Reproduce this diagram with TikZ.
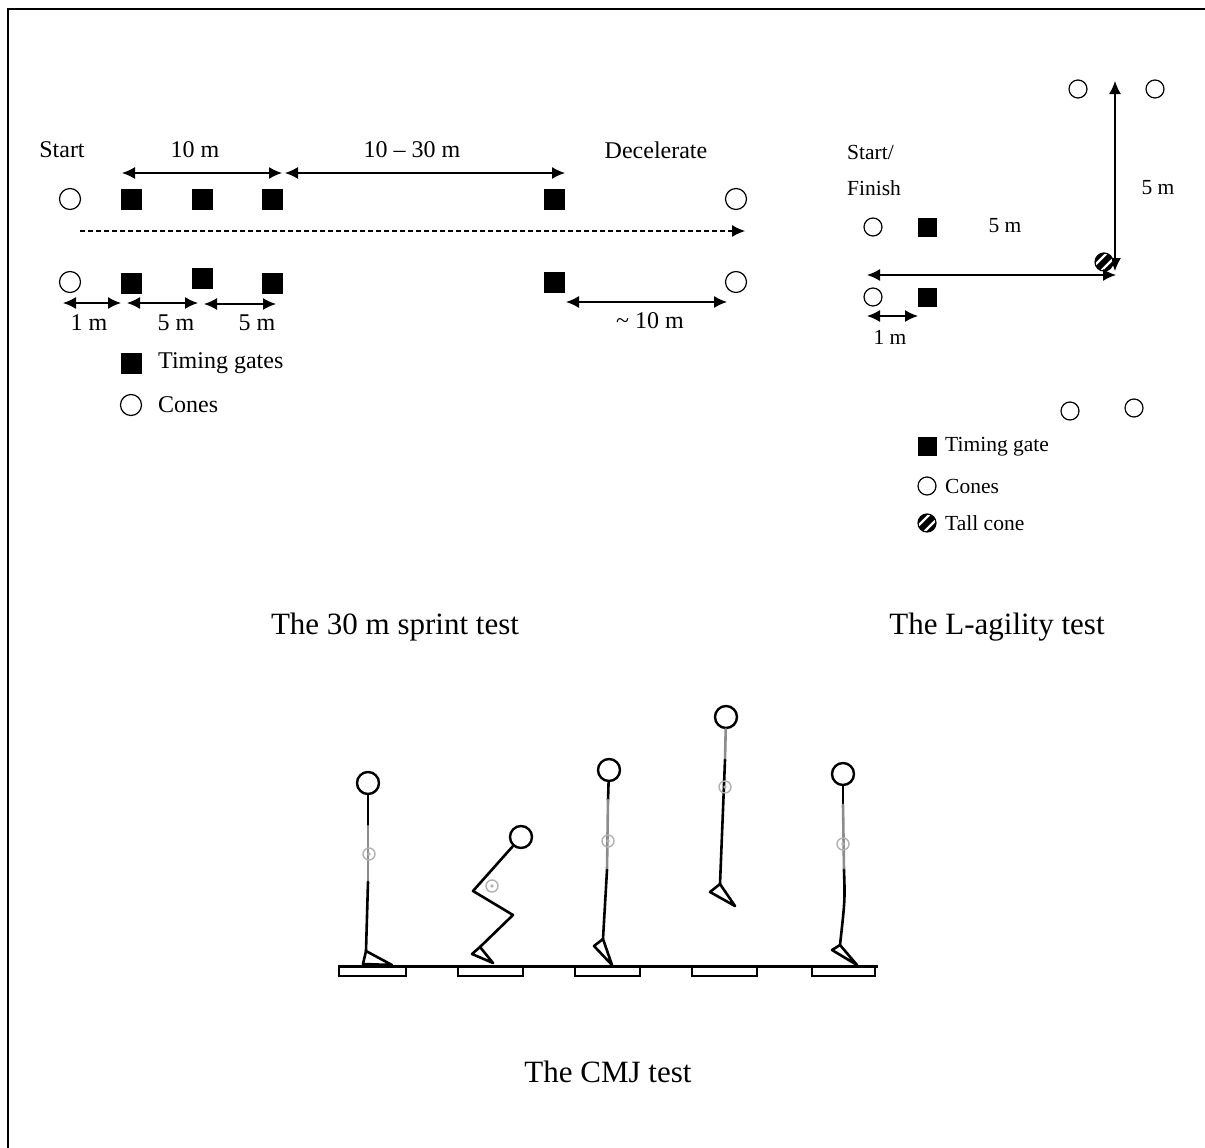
\documentclass[tikz,border=0pt]{standalone}
\usepackage{fontspec}
\setmainfont{Liberation Serif}
\usetikzlibrary{arrows.meta}
\begin{document}
\begin{tikzpicture}[x=1pt,y=-1pt,
  cone/.style={circle,draw,line width=1.2pt,minimum size=21pt,inner sep=0pt},
  gate/.style={rectangle,fill=black,minimum size=21pt,inner sep=0pt},
  lcone/.style={cone,minimum size=18pt},
  lgate/.style={gate,minimum size=19pt},
  tall/.style={circle,draw,fill=black,line width=1.2pt,minimum size=18pt,inner sep=0pt,
    path picture={\foreach \s in {-1,1}{
      \draw[white,line width=2.4pt]
        ([xshift=\s*3pt-12pt,yshift=-\s*3pt-12pt]path picture bounding box.center) -- ++(24pt,24pt);}}},
  tip/.style={Latex[length=13pt,width=12pt]},
  dim/.style={{Latex[length=13pt,width=12pt]}-{Latex[length=13pt,width=12pt]},line width=1.4pt},
  lab/.style={font=\fontsize{24}{28}\selectfont,inner sep=0pt},
  llab/.style={font=\fontsize{21.5}{26}\selectfont,inner sep=0pt},
  title/.style={font=\fontsize{31}{36}\selectfont,inner sep=0pt},
  body/.style={line width=2.6pt,line cap=round,line join=round},
  lightbody/.style={body,draw=black!45},
  head/.style={circle,draw,line width=2.4pt,minimum size=22pt,inner sep=0pt},
  hip/.style={circle,draw=black!30,line width=1.4pt,minimum size=12pt,inner sep=0pt,
    path picture={\fill[black!30] (path picture bounding box.center) circle[radius=1.8pt];}},
]
\useasboundingbox (0,0) rectangle (1205,1148);

% frame
\draw[line width=2pt] (8,1148) -- (8,9) -- (1205,9);

% ---------------- 30 m sprint ----------------
\node[lab] (start) at (62,150) {Start};
\node[lab] (ten) at (195,150) {10 m};
\node[lab] (tenthirty) at (412,150) {10 -- 30 m};
\node[lab] (decel) at (656,150) {Decelerate};

\coordinate (a1) at (122,173); \coordinate (a2) at (282,173);
\coordinate (a3) at (285,173); \coordinate (a4) at (565,173);
\draw[dim] (a1) -- (a2);
\draw[dim] (a3) -- (a4);

\node[cone] (c1) at (70,199) {};
\node[gate] (g1) at (131,199) {};
\node[gate] (g2) at (202,199) {};
\node[gate] (g3) at (272,199) {};
\node[gate] (g4) at (554,199) {};
\node[cone] (c2) at (736,199) {};

\coordinate (run0) at (80,231); \coordinate (run1) at (745,231);
\draw[line width=1.2pt,dash pattern=on 4.5pt off 3.5pt,-{Latex[length=13pt,width=12pt]}] (run0) -- (run1);

\node[cone] (c3) at (70,282) {};
\node[gate] (g5) at (131,283) {};
\node[gate] (g6) at (202,278) {};
\node[gate] (g7) at (272,283) {};
\node[gate] (g8) at (554,282) {};
\node[cone] (c4) at (736,282) {};

\coordinate (b1) at (63,303);  \coordinate (b2) at (121,303);
\coordinate (b3) at (127,303); \coordinate (b4) at (198,303);
\coordinate (b5) at (204,304); \coordinate (b6) at (276,304);
\coordinate (b7) at (566,302); \coordinate (b8) at (727,302);
\draw[dim] (b1) -- (b2);
\draw[dim] (b3) -- (b4);
\draw[dim] (b5) -- (b6);
\draw[dim] (b7) -- (b8);
\node[lab] (m1) at (89,323) {1 m};
\node[lab] (m5a) at (176,323) {5 m};
\node[lab] (m5b) at (257,323) {5 m};
\node[lab] (m10) at (650,321) {\textasciitilde\ 10 m};

\node[gate] (kg) at (131,363) {};
\node[lab,anchor=west] (kgt) at (158,363) {Timing gates};
\node[cone] (kc) at (131,405) {};
\node[lab,anchor=west] (kct) at (158,405) {Cones};

\node[title] (t1) at (395,627) {The 30 m sprint test};

% ---------------- L-agility ----------------
\node[lcone] (l1) at (1078,89) {};
\node[lcone] (l2) at (1155,89) {};
\coordinate (v1) at (1115,81); \coordinate (v2) at (1115,271);
\draw[dim] (v1) -- (v2);
\node[llab] (lv) at (1158,188) {5 m};

\node[llab,anchor=west] (sf1) at (847,152) {Start/};
\node[llab,anchor=west] (sf2) at (847,188) {Finish};

\node[lcone] (l3) at (873,227) {};
\node[lgate] (lg1) at (927,227) {};
\node[llab] (lh) at (1005,226) {5 m};

\node[tall] (tc) at (1104,262) {};
\coordinate (h1) at (867,275); \coordinate (h2) at (1116,275);
\draw[dim] (h1) -- (h2);

\node[lcone] (l4) at (873,297) {};
\node[lgate] (lg2) at (927,297) {};
\coordinate (d1) at (867,316); \coordinate (d2) at (918,316);
\draw[dim] (d1) -- (d2);
\node[llab] (l1m) at (890,337) {1 m};

\node[lcone] (l5) at (1070,411) {};
\node[lcone] (l6) at (1134,408) {};

\node[lgate] (lkg) at (927,446) {};
\node[llab,anchor=west] (lkgt) at (945,447) {Timing gate};
\node[lcone] (lkc) at (927,486) {};
\node[llab,anchor=west] (lkct) at (945,486) {Cones};
\node[tall] (lkt) at (927,523) {};
\node[llab,anchor=west] (lktt) at (945,523) {Tall cone};

\node[title] (t2) at (997,627) {The L-agility test};

% ---------------- CMJ ----------------
% ground and force plates
\draw[line width=3pt] (338,966) -- (878,966);
\foreach \xa/\xb in {339/406,458/523,575/640,692/757,812/875}
  \draw[line width=2pt] (\xa,966) rectangle (\xb,976);

% 1: upright stance
\node[head] (hd1) at (368,783) {};
\draw[body] (hd1) -- (368,826);
\draw[lightbody] (368,826) -- (368,882);
\draw[body] (368,882) -- (366,951);
\node[hip] (hp1) at (369,854) {};
\draw[body] (366,951) -- (363,964) -- (392,965) -- cycle;

% 2: counter-movement
\node[head] (hd2) at (521,837) {};
\draw[body] (hd2) -- (473,891) -- (513,915) -- (480,947);
\node[hip] (hp2) at (492,886) {};
\draw[body] (480,947) -- (472,954) -- (493,963) -- cycle;

% 3: take-off
\node[head] (hd3) at (609,770) {};
\draw[body] (hd3) -- (608,800);
\draw[lightbody] (608,800) -- (607,870);
\draw[body] (607,870) -- (603,939);
\node[hip] (hp3) at (608,841) {};
\draw[body] (603,939) -- (594,946) -- (612,965) -- cycle;

% 4: flight
\node[head] (hd4) at (726,717) {};
\draw[lightbody] (hd4) -- (725,760);
\draw[body] (725,760) -- (720,884);
\node[hip] (hp4) at (725,787) {};
\draw[body] (720,884) -- (710,892) -- (735,906) -- cycle;

% 5: landing
\node[head] (hd5) at (843,774) {};
\draw[body] (hd5) -- (843,805);
\draw[lightbody] (843,805) -- (844,870);
\draw[body] (844,870) .. controls (845,900) .. (840,945);
\node[hip] (hp5) at (843,844) {};
\draw[body] (840,945) -- (832,950) -- (857,965) -- cycle;

\node[title] (t3) at (608,1072) {The CMJ test};
\end{tikzpicture}
\end{document}
